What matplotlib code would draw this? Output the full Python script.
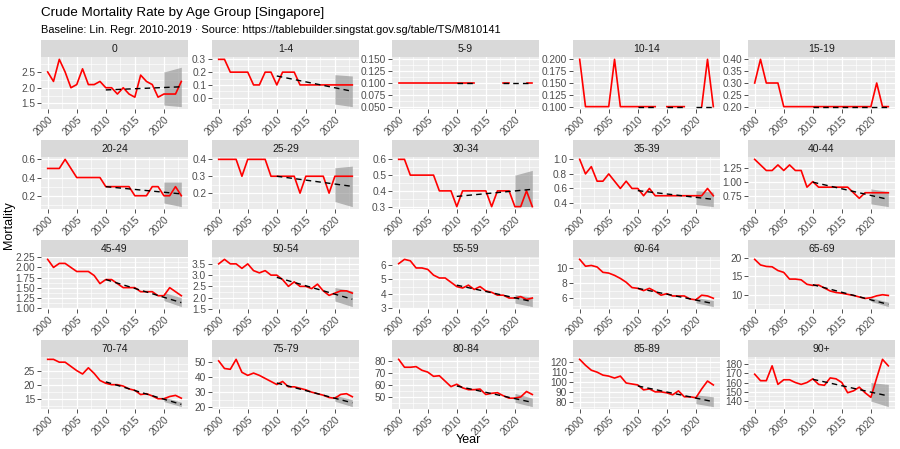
import numpy as np
import matplotlib
matplotlib.use("Agg")
import matplotlib.pyplot as plt
from matplotlib.ticker import FixedLocator, FixedFormatter

plt.rcParams['font.family'] = ['Liberation Sans', 'DejaVu Sans']

years = list(range(2000, 2024))
nan = np.nan

groups = ["0", "1-4", "5-9", "10-14", "15-19",
          "20-24", "25-29", "30-34", "35-39", "40-44",
          "45-49", "50-54", "55-59", "60-64", "65-69",
          "70-74", "75-79", "80-84", "85-89", "90+"]

# crude mortality rate per group, 2000..2023 (NaN = no value)
mortality = {
    "0": [2.5, 2.2, 2.9, 2.5, 2.0, 2.1, 2.6, 2.1, 2.1, 2.2, 2.0, 2.0, 1.8, 2.0, 1.8, 1.7, 2.4, 2.2, 2.1, 1.7, 1.8, 1.8, 1.8, 2.2],
    "1-4": [0.3, 0.3, 0.2, 0.2, 0.2, 0.2, 0.1, 0.1, 0.2, 0.2, 0.1, 0.2, 0.2, 0.2, 0.1, 0.1, 0.1, 0.1, 0.1, 0.1, 0.1, 0.1, 0.1, 0.1],
    "5-9": [0.1] * 14 + [nan] * 4 + [0.1, 0.1, nan, nan, 0.1, 0.1],
    "10-14": [0.2, 0.1, 0.1, 0.1, 0.1, 0.1, 0.2, 0.1, 0.1, 0.1, 0.1, 0.1, 0.1, 0.1, nan, 0.1, 0.1, 0.1, 0.1, nan, nan, 0.1, 0.2, 0.1],
    "15-19": [0.3, 0.4, 0.3, 0.3, 0.3, 0.2, 0.2, 0.2, 0.2, 0.2, 0.2, 0.2, 0.2, 0.2, 0.2, 0.2, 0.2, 0.2, 0.2, 0.2, 0.2, 0.3, 0.2, 0.2],
    "20-24": [0.5, 0.5, 0.5, 0.6, 0.5, 0.4, 0.4, 0.4, 0.4, 0.4, 0.3, 0.3, 0.3, 0.3, 0.3, 0.2, 0.2, 0.2, 0.3, 0.3, 0.2, 0.2, 0.3, 0.2],
    "25-29": [0.4, 0.4, 0.4, 0.4, 0.3, 0.4, 0.4, 0.4, 0.4, 0.3, 0.3, 0.3, 0.3, 0.3, 0.2, 0.3, 0.3, 0.3, 0.3, 0.2, 0.3, 0.3, 0.3, 0.3],
    "30-34": [0.6, 0.6, 0.5, 0.5, 0.5, 0.5, 0.5, 0.4, 0.4, 0.4, 0.3, 0.4, 0.4, 0.4, 0.4, 0.4, 0.3, 0.4, 0.4, 0.4, 0.3, 0.3, 0.4, 0.3],
    "35-39": [1.0, 0.8, 0.9, 0.7, 0.7, 0.8, 0.7, 0.6, 0.7, 0.6, 0.6, 0.5, 0.6, 0.5, 0.5, 0.5, 0.5, 0.5, 0.5, 0.5, 0.5, 0.5, 0.6, 0.5],
    "40-44": [1.4, 1.3, 1.2, 1.2, 1.3, 1.2, 1.3, 1.2, 1.2, 0.9, 1.0, 0.9, 0.9, 0.9, 0.9, 0.9, 0.9, 0.8, 0.7, 0.8, 0.8, 0.8, 0.8, 0.8],
    "45-49": [2.2, 2.0, 2.1, 2.1, 2.0, 1.9, 1.9, 1.9, 1.8, 1.6, 1.7, 1.7, 1.6, 1.5, 1.5, 1.5, 1.4, 1.4, 1.4, 1.3, 1.3, 1.5, 1.4, 1.3],
    "50-54": [3.5, 3.7, 3.5, 3.5, 3.3, 3.5, 3.2, 3.1, 3.2, 3.0, 3.0, 2.8, 2.5, 2.7, 2.5, 2.5, 2.4, 2.6, 2.3, 2.1, 2.2, 2.3, 2.3, 2.2],
    "55-59": [6.1, 6.4, 6.3, 5.8, 5.8, 5.7, 5.3, 5.1, 5.1, 4.8, 4.5, 4.4, 4.6, 4.3, 4.5, 4.2, 4.1, 3.9, 3.9, 3.7, 3.7, 3.8, 3.6, 3.7],
    "60-64": [11.1, 10.2, 10.3, 10.1, 9.4, 9.3, 9.0, 8.6, 8.1, 7.4, 7.3, 7.0, 7.3, 6.9, 6.4, 6.6, 6.3, 6.3, 6.3, 5.9, 5.8, 6.4, 6.3, 6.0],
    "65-69": [19.5, 18.0, 17.6, 17.5, 16.5, 16.0, 14.2, 14.2, 14.0, 12.8, 12.5, 12.6, 11.8, 11.0, 10.6, 10.4, 10.1, 9.8, 9.4, 9.0, 9.2, 9.7, 10.0, 9.8],
    "70-74": [29.0, 29.0, 28.0, 28.0, 26.5, 25.0, 23.8, 26.0, 24.0, 21.5, 20.5, 20.0, 20.0, 19.5, 18.5, 18.0, 16.5, 16.8, 16.0, 15.0, 15.0, 15.8, 16.2, 15.2],
    "75-79": [50.5, 45.5, 45.0, 51.5, 43.0, 41.0, 42.5, 41.0, 39.0, 37.0, 35.0, 37.0, 33.5, 33.5, 32.5, 31.5, 30.0, 29.0, 28.0, 26.5, 26.0, 28.5, 29.0, 27.0],
    "80-84": [81.0, 74.5, 74.5, 75.0, 72.0, 70.5, 67.0, 67.5, 63.0, 58.5, 60.5, 57.5, 56.0, 56.0, 56.5, 52.0, 53.0, 53.5, 51.0, 49.0, 49.0, 50.0, 54.5, 52.0],
    "85-89": [123, 117, 112, 110, 107, 106, 104, 106, 99, 98, 97, 92, 93, 90, 90, 89, 87, 91, 85, 85, 84, 93, 101, 97],
    "90+": [169, 162, 162, 178, 158, 163, 163, 160, 158, 160, 164, 158, 157, 165, 164, 160, 149, 151, 155, 149, 144, 165, 185, 178],
}

# baseline (lin. regr. 2010-2019) start value at 2010 and value at 2023
baseline_ends = {
    "0": (1.93, 2.03), "1-4": (0.17, 0.05), "5-9": (0.1, 0.1), "10-14": (0.1, 0.1),
    "15-19": (0.2, 0.2), "20-24": (0.30, 0.22), "25-29": (0.30, 0.24), "30-34": (0.365, 0.41),
    "35-39": (0.57, 0.45), "40-44": (0.99, 0.68), "45-49": (1.70, 1.13), "50-54": (2.90, 1.93),
    "55-59": (4.60, 3.45), "60-64": (7.30, 5.30), "65-69": (12.7, 7.4), "70-74": (21.0, 13.0),
    "75-79": (36.0, 23.0), "80-84": (59.0, 45.5), "85-89": (96.0, 80.0), "90+": (163.5, 145.5),
}

# prediction band 2020..2023: (lower 2020, lower 2023, upper 2020, upper 2023)
bands = {
    "0": (1.45, 1.40, 2.50, 2.65), "1-4": (-0.05, -0.07, 0.18, 0.17),
    "20-24": (0.12, 0.08, 0.35, 0.35), "25-29": (0.15, 0.12, 0.35, 0.36),
    "30-34": (0.30, 0.30, 0.50, 0.53), "35-39": (0.38, 0.35, 0.57, 0.55),
    "40-44": (0.60, 0.55, 0.87, 0.82), "45-49": (1.18, 1.03, 1.38, 1.25),
    "50-54": (1.85, 1.60, 2.45, 2.30), "55-59": (3.35, 3.10, 3.95, 3.75),
    "60-64": (5.40, 4.90, 6.10, 5.70), "65-69": (8.2, 6.8, 9.2, 8.0),
    "70-74": (14.0, 12.2, 15.6, 13.8), "75-79": (24.0, 20.5, 28.0, 25.0),
    "80-84": (45.5, 42.0, 53.0, 49.0), "85-89": (78.0, 75.0, 87.0, 85.0),
    "90+": (140.0, 134.0, 160.0, 158.0),
}

y_ticks = {
    "0": [1.5, 2.0, 2.5], "1-4": [0.0, 0.1, 0.2, 0.3],
    "5-9": [0.05, 0.075, 0.1, 0.125, 0.15], "10-14": [0.1, 0.125, 0.15, 0.175, 0.2],
    "15-19": [0.2, 0.25, 0.3, 0.35, 0.4], "20-24": [0.2, 0.4, 0.6], "25-29": [0.2, 0.3, 0.4],
    "30-34": [0.3, 0.4, 0.5, 0.6], "35-39": [0.4, 0.6, 0.8, 1.0], "40-44": [0.75, 1.0, 1.25],
    "45-49": [1.0, 1.25, 1.5, 1.75, 2.0, 2.25], "50-54": [1.5, 2.0, 2.5, 3.0, 3.5],
    "55-59": [3, 4, 5, 6], "60-64": [6, 8, 10], "65-69": [10, 15, 20], "70-74": [15, 20, 25],
    "75-79": [20, 30, 40, 50], "80-84": [50, 60, 70, 80], "85-89": [80, 90, 100, 110, 120],
    "90+": [140, 150, 160, 170, 180],
}
x_ticks = [2000, 2005, 2010, 2015, 2020]


def fmt_ticks(ticks):
    for d in range(0, 4):
        labels = [f"{t:.{d}f}" for t in ticks]
        if all(abs(float(l) - t) < 1e-9 for l, t in zip(labels, ticks)):
            return labels
    return [f"{t:.3f}" for t in ticks]


W, H = 900, 449
fig = plt.figure(figsize=(W / 100, H / 100), dpi=100)
fig.patch.set_facecolor("white")

col_left = [41, 212, 392, 573, 748]
row_top = [40, 140, 240, 340]
pw, strip_h, ph = 147, 17, 52

yrs = np.array(years, dtype=float)
for i, g in enumerate(groups):
    r, c = divmod(i, 5)
    x0, y0 = col_left[c], row_top[r]
    ax = fig.add_axes([x0 / W, (H - (y0 + strip_h + ph)) / H, pw / W, ph / H])
    sax = fig.add_axes([x0 / W, (H - (y0 + strip_h)) / H, pw / W, strip_h / H])
    sax.set_facecolor("#D9D9D9")
    sax.set_xticks([]); sax.set_yticks([])
    for s in sax.spines.values():
        s.set_visible(False)
    sax.text(0.5, 0.45, g, ha="center", va="center", fontsize=7.5, color="#1A1A1A",
             transform=sax.transAxes)

    vals = np.array(mortality[g], dtype=float)
    b0, b1 = baseline_ends[g]
    by = np.array([b0 + (b1 - b0) * (y - 2010) / 13 for y in range(2010, 2024)])
    bx = np.arange(2010, 2024, dtype=float)
    # baseline is only fitted on years with data before 2020
    bmask = np.array([(y >= 2020) or not np.isnan(vals[y - 2000]) for y in range(2010, 2024)])
    by = np.where(bmask, by, np.nan)

    lo_vals = [np.nanmin(vals), np.nanmin(by)]
    hi_vals = [np.nanmax(vals), np.nanmax(by)]
    if g in bands:
        l0, l1, u0, u1 = bands[g]
        bxs = np.arange(2020, 2024, dtype=float)
        lo = l0 + (l1 - l0) * (bxs - 2020) / 3
        hi = u0 + (u1 - u0) * (bxs - 2020) / 3
        ax.fill_between(bxs, lo, hi, color="#8c8c8c", alpha=0.6, lw=0, zorder=2)
        lo_vals.append(lo.min()); hi_vals.append(hi.max())
    ax.plot(yrs, vals, color="#FF0000", lw=1.2, zorder=3)
    ax.plot(bx, by, color="black", lw=1.0, ls=(0, (4, 3)), zorder=4)

    ymin, ymax = min(lo_vals), max(hi_vals)
    if ymax - ymin < 1e-9:
        ymin, ymax = ymin - 0.05, ymax + 0.05
    pad = (ymax - ymin) * 0.05
    ax.set_ylim(ymin - pad, ymax + pad)
    ax.set_xlim(2000 - 23 * 0.05, 2023 + 23 * 0.05)

    yt = y_ticks[g]
    ax.yaxis.set_major_locator(FixedLocator(yt))
    ax.yaxis.set_major_formatter(FixedFormatter(fmt_ticks(yt)))
    step = yt[1] - yt[0]
    ax.yaxis.set_minor_locator(FixedLocator([yt[0] - step / 2] + [t + step / 2 for t in yt]))
    ax.xaxis.set_major_locator(FixedLocator(x_ticks))
    ax.xaxis.set_minor_locator(FixedLocator([1997.5] + [t + 2.5 for t in x_ticks]))
    ax.set_xticklabels([str(t) for t in x_ticks], rotation=45, ha="right", va="top",
                       rotation_mode="anchor")

    ax.set_facecolor("#EBEBEB")
    for s in ax.spines.values():
        s.set_visible(False)
    ax.grid(which="major", color="white", lw=0.9, zorder=0)
    ax.grid(which="minor", color="white", lw=0.45, zorder=0)
    ax.set_axisbelow(True)
    ax.tick_params(which="major", length=2.7, width=0.6, color="#333333",
                   labelsize=7.3, labelcolor="#4D4D4D", pad=1.5)
    ax.tick_params(which="minor", length=0)

fig.text(41 / W, 1 - 13 / H, "Crude Mortality Rate by Age Group [Singapore]",
         fontsize=9.7, color="black", ha="left", va="center")
fig.text(41 / W, 1 - 30 / H,
         "Baseline: Lin. Regr. 2010-2019 \u00b7 Source: https://tablebuilder.singstat.gov.sg/table/TS/M810141",
         fontsize=7.9, color="black", ha="left", va="center")
fig.text(9 / W, 1 - 225 / H, "Mortality", rotation=90, fontsize=9, ha="center", va="center")
fig.text(468 / W, 1 - 440 / H, "Year", fontsize=9, ha="center", va="center")

fig.savefig("out.png", dpi=100)
